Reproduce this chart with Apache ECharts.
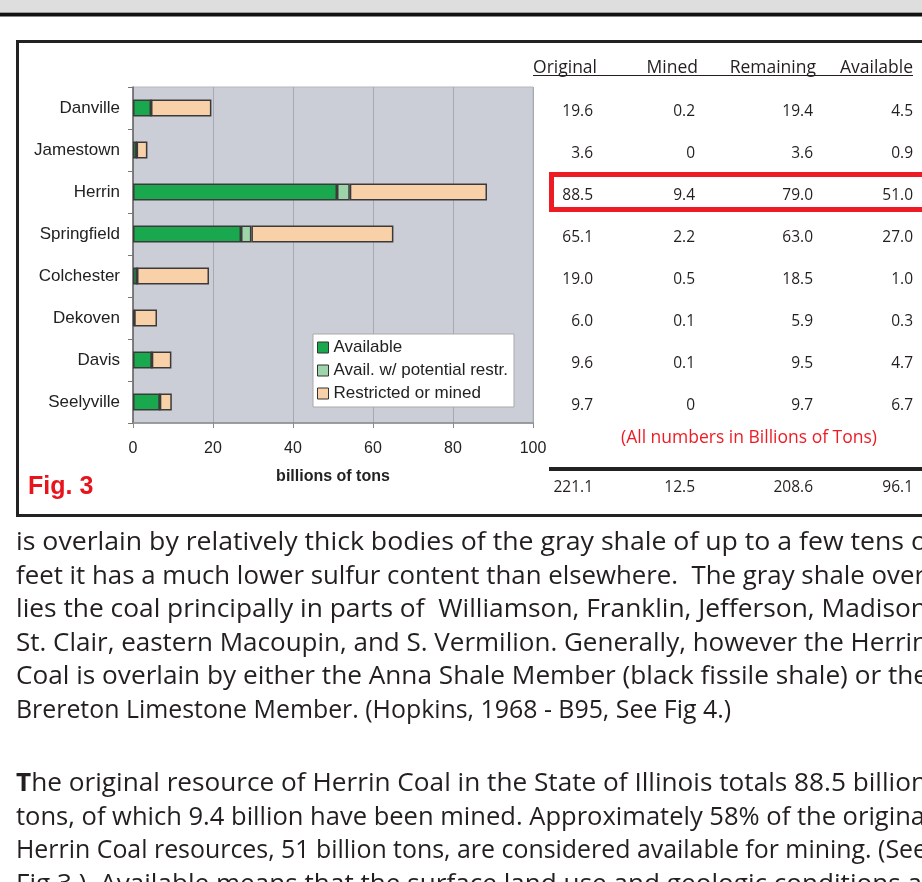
<!DOCTYPE html>
<html><head><meta charset="utf-8">
<script src="https://cdn.jsdelivr.net/npm/echarts@6/dist/echarts.min.js"></script>
<style>html,body{margin:0;padding:0;background:#fff;overflow:hidden}#c{width:922px;height:882px}</style>
</head><body><div id="c"></div>
<script>
// ---------- data ----------
const categories = ['Danville','Jamestown','Herrin','Springfield','Colchester','Dekoven','Davis','Seelyville'];
const seriesNames = ['Available','Avail. w/ potential restr.','Restricted or mined'];
const availableVals  = [4.5, 0.9, 51.0, 27.0, 1.0, 0.3, 4.7, 6.7];
const potentialVals  = [0, 0, 3.2, 2.6, 0, 0, 0, 0];
const restrictedVals = [15.1, 2.7, 34.3, 35.5, 18.0, 5.7, 4.9, 3.0];
const xMin = 0, xMax = 100, xStep = 20;
const xAxisTitle = 'billions of tons';
const figLabel = 'Fig. 3';

const tableHeaders = ['Original','Mined','Remaining','Available'];
const colOriginal  = ['19.6','3.6','88.5','65.1','19.0','6.0','9.6','9.7'];
const colMined     = ['0.2','0','9.4','2.2','0.5','0.1','0.1','0'];
const colRemaining = ['19.4','3.6','79.0','63.0','18.5','5.9','9.5','9.7'];
const colAvailable = ['4.5','0.9','51.0','27.0','1.0','0.3','4.7','6.7'];
const colTotals    = ['221.1','12.5','208.6','96.1'];
const noteText = '(All numbers in Billions of Tons)';

const bodyLines = [
  'is overlain by relatively thick bodies of the gray shale of up to a few tens o',
  'feet it has a much lower sulfur content than elsewhere.  The gray shale over',
  'lies the coal principally in parts of  Williamson, Franklin, Jefferson, Madison',
  'St. Clair, eastern Macoupin, and S. Vermilion. Generally, however the Herrin',
  'Coal is overlain by either the Anna Shale Member (black fissile shale) or the',
  'Brereton Limestone Member. (Hopkins, 1968 - B95, See Fig 4.)',
  'The original resource of Herrin Coal in the State of Illinois totals 88.5 billion',
  'tons, of which 9.4 billion have been mined. Approximately 58% of the origina',
  'Herrin Coal resources, 51 billion tons, are considered available for mining. (See',
  'Fig 3.)  Available means that the surface land use and geologic conditions a'
];

// ---------- layout (styles / positions) ----------
const bodyBaselines = [549, 582.5, 616, 649.5, 683, 716.5, 790, 823.5, 857, 890.5];
const bodyEnds      = [927, 925, 927, 928, 928, 731, 927, 925, 927, 922];
const boldFirstLetter = [false,false,false,false,false,false,true,false,false,false];
const colRight = [593, 695, 813, 913];
const headRight = [597, 698, 816, 913];
const FONT_T = '"Open Sans", "Noto Sans", sans-serif';
const FONT_A = '"Liberation Sans", Arial, sans-serif';

const chart = echarts.init(document.getElementById('c'), null, {renderer:'canvas'});

const colors = ['#1aa84f', '#9dd4aa', '#f8d1a9'];
function barSeries(name, data, color) {
  return {
    name, type:'bar', stack:'total', data, barWidth:17,
    itemStyle:{color, borderColor:'#3a3a3a', borderWidth:1.5},
    emphasis:{disabled:true}, animation:false
  };
}

const option = {
  animation:false,
  backgroundColor:'#ffffff',
  grid:{left:133, top:87, width:400, height:336, show:true,
        backgroundColor:'#cbced6', borderColor:'#b3b6bd', borderWidth:1},
  xAxis:{type:'value', min:xMin, max:xMax, interval:xStep,
    axisLine:{show:true, lineStyle:{color:'#8a8a8a', width:1.5}},
    axisTick:{show:true, length:5, lineStyle:{color:'#8a8a8a'}},
    axisLabel:{fontFamily:FONT_A, fontSize:16, color:'#222', margin:18},
    splitLine:{show:true, lineStyle:{color:'#a6a9b1', width:1}},
    name:xAxisTitle, nameLocation:'middle', nameGap:46,
    nameTextStyle:{fontFamily:FONT_A, fontSize:16, fontWeight:'bold', color:'#222'}
  },
  yAxis:{type:'category', data:categories, inverse:true,
    axisLine:{show:true, lineStyle:{color:'#666', width:1.5}},
    axisTick:{show:true, length:5, alignWithLabel:false, lineStyle:{color:'#777'}},
    axisLabel:{fontFamily:FONT_A, fontSize:17, color:'#222', margin:13},
    splitLine:{show:false}
  },
  legend:{show:true, orient:'vertical', left:313, top:334,
    data:seriesNames, icon:'rect', itemWidth:11, itemHeight:11, itemGap:6,
    padding:[5,6,5,4], backgroundColor:'#ffffff', borderColor:'#a9a9a9', borderWidth:1,
    itemStyle:{borderColor:'#333', borderWidth:1},
    textStyle:{fontFamily:FONT_A, fontSize:17, color:'#222', lineHeight:17},
    selectedMode:false
  },
  series:[
    barSeries(seriesNames[0], availableVals, colors[0]),
    barSeries(seriesNames[1], potentialVals, colors[1]),
    barSeries(seriesNames[2], restrictedVals, colors[2])
  ]
};
chart.setOption(option);

// ---------- graphic overlay: page elements, table, body text ----------
const g = [];
g.push({type:'rect', shape:{x:0,y:0,width:922,height:12}, style:{fill:'#dedede'}, silent:true});
g.push({type:'rect', shape:{x:0,y:12,width:922,height:1.5}, style:{fill:'#9a9a9a'}, silent:true});
g.push({type:'rect', shape:{x:0,y:13,width:922,height:3.5}, style:{fill:'#111'}, silent:true});
g.push({type:'rect', shape:{x:17.5,y:41.5,width:1000,height:474}, style:{fill:null, stroke:'#222', lineWidth:3}, silent:true, z:-1});
g.push({type:'text', x:28, y:487, style:{text:figLabel, fontFamily:FONT_A, fontSize:25, fontWeight:'bold', fill:'#e8141c', verticalAlign:'middle'}, silent:true});

const headerY = 68;
tableHeaders.forEach((h,i)=>{
  g.push({type:'text', x:headRight[i], y:headerY, style:{text:h, fontFamily:FONT_T, fontSize:17.5, fill:'#231f20', align:'right', verticalAlign:'middle'}, silent:true});
});
g.push({type:'line', shape:{x1:533,y1:75.5,x2:913,y2:75.5}, style:{stroke:'#231f20', lineWidth:1}, silent:true});

const cols = [colOriginal, colMined, colRemaining, colAvailable];
categories.forEach((c,r)=>{
  const py = chart.convertToPixel({yAxisIndex:0}, c) + 3.5;
  cols.forEach((col,i)=>{
    g.push({type:'text', x:colRight[i], y:py, style:{text:col[r], fontFamily:FONT_T, fontSize:15.5, fill:'#231f20', align:'right', verticalAlign:'middle'}, silent:true});
  });
});
const herrinY = chart.convertToPixel({yAxisIndex:0}, 'Herrin') + 2;
g.push({type:'rect', shape:{x:551.5, y:herrinY-19.5, width:500, height:35}, style:{fill:null, stroke:'#ed1c24', lineWidth:5}, silent:true});
g.push({type:'text', x:621, y:438, style:{text:noteText, fontFamily:FONT_T, fontSize:17.5, fill:'#ed1c24', verticalAlign:'middle'}, silent:true});
g.push({type:'rect', shape:{x:549,y:467,width:400,height:4}, style:{fill:'#222'}, silent:true});
colTotals.forEach((t,i)=>{
  g.push({type:'text', x:colRight[i], y:488, style:{text:t, fontFamily:FONT_T, fontSize:15.5, fill:'#231f20', align:'right', verticalAlign:'middle'}, silent:true});
});

// body text, each line horizontally condensed to fit the justified width
const cv = document.createElement('canvas').getContext('2d');
const BODY_SIZE = 25;
bodyLines.forEach((line,i)=>{
  let w, text, rich;
  if (boldFirstLetter[i]) {
    cv.font = 'bold ' + BODY_SIZE + 'px ' + FONT_T;
    const w1 = cv.measureText(line[0]).width;
    cv.font = BODY_SIZE + 'px ' + FONT_T;
    w = w1 + cv.measureText(line.slice(1)).width;
    text = '{b|' + line[0] + '}{n|' + line.slice(1) + '}';
    rich = {b:{fontFamily:FONT_T, fontSize:BODY_SIZE, fontWeight:'bold', fill:'#231f20'},
            n:{fontFamily:FONT_T, fontSize:BODY_SIZE, fill:'#231f20'}};
  } else {
    cv.font = BODY_SIZE + 'px ' + FONT_T;
    w = cv.measureText(line).width;
    text = line;
  }
  const sx = (bodyEnds[i] - 16) / w;
  const el = {type:'text', x:16, y:bodyBaselines[i] - 6, scaleX:sx, silent:true,
    style:{text, fontFamily:FONT_T, fontSize:BODY_SIZE, fill:'#231f20', verticalAlign:'middle'}};
  if (rich) el.style.rich = rich;
  g.push(el);
});

chart.setOption({graphic:{elements:g}});
</script>
</body></html>
